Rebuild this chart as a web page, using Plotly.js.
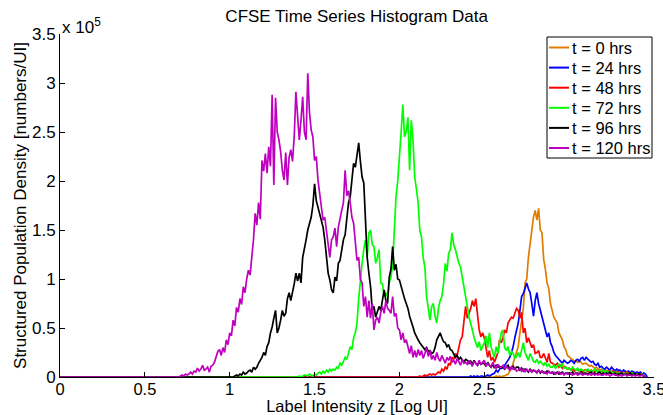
<!DOCTYPE html>
<html>
<head>
<meta charset="utf-8">
<script src="https://cdn.plot.ly/plotly-3.0.1.min.js"></script>
<style>html,body{margin:0;padding:0;background:#fff;}#chart{width:663px;height:415px;}</style>
</head>
<body>
<div id="chart"></div>
<script>
// Histogram bins: step in Log UI, first bin of each series' listed values
const binStep = 0.01;
const seriesNames = ["t = 0 hrs", "t = 24 hrs", "t = 48 hrs", "t = 72 hrs", "t = 96 hrs", "t = 120 hrs"];
const binStart = [2.55, 2.40, 2.10, 1.40, 1.02, 0.70];
const axisMin = 0;

// densities in units of 1e5 numbers/UI
const t0 = [
0.00,0.00,0.01,0.00,0.01,
0.00,0.01,0.01,0.02,0.03,0.06,0.08,0.14,0.20,0.27,
0.31,0.45,0.58,0.70,0.96,1.00,1.22,1.35,1.47,1.63,
1.70,1.60,1.72,1.50,1.47,1.20,1.10,0.96,0.90,0.75,
0.68,0.61,0.58,0.55,0.45,0.41,0.38,0.31,0.28,0.22,
0.20,0.19,0.18,0.16,0.17,0.15,0.16,0.15,0.13,0.14,
0.14,0.12,0.11,0.12,0.10,0.09,0.10,0.08,0.07,0.08,
0.07,0.06,0.07,0.06,0.05,0.06,0.06,0.05,0.06,0.05,
0.05,0.04,0.05,0.04,0.04,0.05,0.03,0.04,0.04,0.03,
0.03,0.04,0.03,0.02,0.01,0.00];

const t24 = [
0.00,0.00,0.01,0.00,0.01,0.00,0.01,0.00,0.01,0.01,
0.00,0.01,0.02,0.01,0.02,0.03,0.04,0.07,0.05,0.08,
0.10,0.09,0.12,0.14,0.17,0.20,0.25,0.31,0.40,0.48,
0.55,0.68,0.82,0.85,0.92,0.96,0.90,0.86,0.75,0.62,
0.78,0.86,0.75,0.68,0.60,0.55,0.45,0.41,0.45,0.35,
0.31,0.25,0.22,0.20,0.18,0.16,0.14,0.17,0.15,0.14,
0.15,0.17,0.16,0.14,0.17,0.18,0.16,0.19,0.20,0.17,
0.20,0.18,0.17,0.15,0.16,0.13,0.12,0.14,0.10,0.11,
0.09,0.08,0.10,0.08,0.07,0.10,0.08,0.06,0.08,0.07,
0.07,0.05,0.07,0.06,0.05,0.06,0.04,0.06,0.05,0.04,
0.05,0.04,0.05,0.03,0.04,0.03,0.00];

const t48 = [
0.00,0.00,0.01,0.00,0.01,0.02,0.01,0.02,0.03,0.02,
0.03,0.02,0.04,0.05,0.04,0.08,0.06,0.10,0.08,0.14,
0.12,0.20,0.18,0.24,0.22,0.30,0.38,0.41,0.55,0.72,
0.60,0.65,0.70,0.78,0.72,0.80,0.60,0.48,0.41,0.45,
0.40,0.30,0.20,0.27,0.17,0.20,0.15,0.20,0.25,0.38,
0.35,0.40,0.48,0.45,0.55,0.58,0.61,0.60,0.65,0.70,
0.68,0.60,0.66,0.45,0.50,0.35,0.40,0.35,0.30,0.33,
0.24,0.25,0.27,0.20,0.20,0.24,0.20,0.15,0.24,0.15,
0.14,0.13,0.12,0.14,0.10,0.12,0.09,0.11,0.10,0.08,
0.09,0.07,0.08,0.06,0.07,0.08,0.06,0.07,0.05,0.07,
0.07,0.06,0.05,0.07,0.06,0.05,0.07,0.06,0.05,0.06,
0.06,0.05,0.04,0.06,0.05,0.04,0.06,0.05,0.04,0.05,
0.04,0.05,0.03,0.04,0.05,0.04,0.03,0.04,0.03,0.03,
0.03,0.02,0.03,0.02,0.01,0.00];

const t72 = [
0.00,0.01,0.00,0.01,0.02,0.02,0.01,0.03,0.02,0.01,
0.03,0.02,0.04,0.05,0.03,0.06,0.04,0.07,0.05,0.08,
0.06,0.08,0.07,0.10,0.09,0.14,0.12,0.16,0.20,0.18,
0.24,0.31,0.28,0.40,0.45,0.55,0.80,1.00,1.16,1.30,
1.40,1.22,1.47,1.50,1.35,1.33,1.16,1.22,1.30,0.96,
0.95,0.82,0.86,0.82,0.96,1.02,1.15,1.50,1.84,2.00,
2.32,2.50,2.78,2.45,2.50,2.65,2.11,2.62,2.42,2.04,
1.92,1.78,1.50,1.43,1.22,1.12,0.82,0.70,0.58,0.72,
0.75,0.62,0.55,0.70,0.78,0.82,0.95,1.16,1.08,1.26,
1.30,1.47,1.35,1.30,1.22,1.16,1.12,1.02,0.92,0.86,
0.72,0.61,0.55,0.48,0.40,0.35,0.30,0.36,0.27,0.31,
0.35,0.42,0.30,0.45,0.31,0.25,0.20,0.31,0.24,0.35,
0.45,0.48,0.30,0.27,0.31,0.22,0.26,0.24,0.19,0.21,
0.25,0.20,0.28,0.35,0.25,0.20,0.17,0.24,0.20,0.16,
0.15,0.18,0.14,0.16,0.14,0.12,0.15,0.11,0.13,0.10,
0.10,0.12,0.09,0.11,0.13,0.10,0.14,0.09,0.10,0.08,
0.09,0.07,0.10,0.08,0.07,0.09,0.06,0.08,0.07,0.06,
0.07,0.08,0.06,0.07,0.05,0.08,0.06,0.07,0.05,0.06,
0.07,0.05,0.06,0.04,0.06,0.05,0.04,0.05,0.03,0.04,
0.04,0.03,0.04,0.03,0.04,0.02,0.03,0.04,0.03,0.02,
0.03,0.02,0.02,0.03,0.01,0.00];

const t96 = [
0.00,0.01,0.02,0.01,0.03,0.02,0.05,0.03,
0.04,0.06,0.07,0.05,0.10,0.08,0.10,0.14,0.17,0.20,
0.25,0.22,0.31,0.35,0.45,0.51,0.60,0.68,0.45,0.50,
0.58,0.68,0.62,0.65,0.80,0.86,0.78,0.86,0.95,1.06,
0.98,1.06,0.96,1.22,1.33,1.40,1.50,1.57,1.63,1.75,
1.97,1.80,1.73,1.67,1.60,1.53,1.40,1.22,1.06,0.99,
0.89,0.86,1.02,0.98,1.16,1.19,1.30,1.40,1.45,1.60,
1.78,1.84,1.98,2.18,2.14,2.27,2.39,2.20,2.04,1.98,
1.50,1.22,1.06,0.92,0.68,0.72,0.61,0.66,0.72,0.68,
0.80,0.89,0.78,0.75,1.02,1.10,1.33,1.09,1.15,1.00,
0.99,0.92,0.88,0.80,0.75,0.70,0.62,0.55,0.51,0.45,
0.41,0.38,0.35,0.33,0.31,0.28,0.30,0.26,0.27,0.24,
0.25,0.30,0.38,0.42,0.45,0.40,0.36,0.35,0.31,0.33,
0.28,0.27,0.24,0.20,0.22,0.18,0.20,0.17,0.15,0.18,
0.17,0.14,0.16,0.13,0.17,0.14,0.12,0.15,0.13,0.14,
0.14,0.11,0.15,0.12,0.10,0.13,0.09,0.12,0.10,0.11,
0.09,0.11,0.08,0.10,0.12,0.08,0.09,0.11,0.08,0.10,
0.10,0.07,0.09,0.06,0.08,0.07,0.05,0.08,0.06,0.07,
0.06,0.05,0.07,0.04,0.06,0.05,0.04,0.06,0.05,0.04,
0.05,0.03,0.04,0.05,0.03,0.04,0.05,0.03,0.04,0.04,
0.04,0.03,0.05,0.03,0.04,0.04,0.03,0.05,0.03,0.04,
0.04,0.03,0.04,0.05,0.03,0.04,0.03,0.04,0.05,0.03,
0.04,0.03,0.04,0.03,0.05,0.03,0.03,0.04,0.02,0.03,
0.03,0.04,0.02,0.03,0.03,0.02,0.04,0.02,0.03,0.03,
0.02,0.03,0.02,0.02,0.01,0.00];

const t120 = [
0.00,0.01,0.02,0.01,0.03,0.02,0.03,0.05,0.03,0.06,
0.05,0.09,0.06,0.08,0.12,0.07,0.08,0.10,0.05,0.11,
0.12,0.15,0.20,0.26,0.28,0.22,0.30,0.25,0.38,0.33,
0.45,0.42,0.58,0.52,0.71,0.66,0.80,0.74,0.92,0.86,
1.00,1.09,1.04,1.20,1.40,1.67,1.55,1.78,1.61,2.21,
2.10,2.28,2.08,2.35,2.15,2.88,1.96,2.85,2.50,2.42,
2.30,2.11,2.01,2.29,1.96,2.24,2.32,2.20,2.45,2.91,
2.60,2.42,2.62,2.86,2.50,2.42,3.10,2.70,2.52,2.45,
2.21,2.25,2.01,1.88,1.75,1.60,1.63,1.50,1.35,1.22,
1.40,1.43,1.52,1.33,1.53,1.60,1.70,1.78,2.11,1.85,
1.90,1.78,1.63,1.57,1.33,1.19,1.22,1.00,0.96,0.72,
0.82,0.61,0.78,0.60,0.75,0.48,0.58,0.61,0.55,0.66,
0.72,0.65,0.78,0.70,0.68,0.65,0.82,0.62,0.65,0.50,
0.48,0.38,0.45,0.35,0.38,0.30,0.24,0.32,0.20,0.27,
0.20,0.28,0.22,0.27,0.19,0.24,0.30,0.21,0.27,0.18,
0.22,0.17,0.25,0.19,0.16,0.22,0.18,0.14,0.20,0.17,
0.21,0.15,0.17,0.13,0.19,0.16,0.12,0.18,0.14,0.15,
0.13,0.17,0.14,0.11,0.16,0.14,0.12,0.17,0.13,0.15,
0.17,0.11,0.14,0.12,0.10,0.15,0.11,0.09,0.13,0.10,
0.10,0.12,0.08,0.11,0.09,0.07,0.11,0.08,0.09,0.06,
0.07,0.09,0.06,0.08,0.05,0.08,0.06,0.07,0.05,0.07,
0.06,0.04,0.07,0.05,0.06,0.04,0.05,0.03,0.06,0.04,
0.04,0.05,0.03,0.04,0.05,0.03,0.04,0.02,0.04,0.03,
0.03,0.04,0.02,0.03,0.04,0.02,0.03,0.04,0.02,0.03,
0.03,0.02,0.03,0.02,0.04,0.02,0.03,0.02,0.03,0.02,
0.02,0.03,0.02,0.03,0.01,0.02,0.03,0.02,0.02,0.01,
0.02,0.01,0.02,0.03,0.01,0.02,0.02,0.01,0.02,0.01,
0.02,0.01,0.01,0.02,0.01,0.00];

const seriesValues = [t0, t24, t48, t72, t96, t120];
const colors = ["rgb(222,125,0)", "rgb(0,0,255)", "rgb(255,0,0)", "rgb(0,255,0)", "rgb(0,0,0)", "rgb(191,0,191)"];
const xTicks = [0, 0.5, 1, 1.5, 2, 2.5, 3, 3.5];
const yTicks = [0, 0.5, 1, 1.5, 2, 2.5, 3, 3.5];

const FONT = "Liberation Sans, Arial, Helvetica, sans-serif";
const FS = 17;
const W = 663, H = 415, ML = 60, MR = 9, MT = 34, MB = 38;
const px2x = p => (p - ML) / (W - ML - MR);
const px2y = p => (H - MB - p) / (H - MT - MB);

const traces = [];
for (let i = 0; i < seriesValues.length; i++) {
  traces.push({
    type: "scatter", mode: "lines",
    x: [axisMin, binStart[i]], y: [0, 0],
    line: {color: colors[i], width: 1.7},
    showlegend: false, hoverinfo: "skip"
  });
  traces.push({
    type: "scatter", mode: "lines",
    x0: binStart[i], dx: binStep, y: seriesValues[i],
    name: seriesNames[i],
    line: {color: colors[i], width: 1.7},
    showlegend: false
  });
}

// custom MATLAB-style legend box
const LEG = {left: 547, right: 652, top: 37, bottom: 158, row0: 47.5, rowGap: 20.1, lineL: 549, lineR: 569, textL: 570};
const shapes = [{type: "rect", xref: "paper", yref: "paper",
  x0: px2x(LEG.left), x1: px2x(LEG.right), y0: px2y(LEG.bottom), y1: px2y(LEG.top),
  line: {color: "#000", width: 1}, fillcolor: "#fff", layer: "above"}];
const annotations = [
  {xref: "paper", yref: "paper", x: 0, y: 1, xanchor: "left", yanchor: "bottom",
   text: "x 10<sup>5</sup>", showarrow: false, font: {family: FONT, size: FS}, yshift: -5}
];
seriesNames.forEach((n, i) => {
  const py = LEG.row0 + i * LEG.rowGap;
  shapes.push({type: "line", xref: "paper", yref: "paper",
    x0: px2x(LEG.lineL), x1: px2x(LEG.lineR), y0: px2y(py), y1: px2y(py),
    line: {color: colors[i], width: 2}, layer: "above"});
  annotations.push({xref: "paper", yref: "paper", x: px2x(LEG.textL), y: px2y(py),
    xanchor: "left", yanchor: "middle", text: n, showarrow: false,
    font: {family: FONT, size: 16.5, color: "#000"}});
});

const layout = {
  width: W, height: H,
  margin: {l: ML, r: MR, t: MT, b: MB},
  paper_bgcolor: "#fff", plot_bgcolor: "#fff",
  font: {family: FONT, size: FS, color: "#000"},
  title: {text: "CFSE Time Series Histogram Data", font: {family: FONT, size: FS, color: "#000"},
          x: 0.538, xanchor: "center", y: 0.962, yref: "container", yanchor: "middle"},
  xaxis: {
    range: [0, 3.5], tickvals: xTicks, ticks: "inside", ticklen: 5, tickcolor: "#000",
    showline: true, linecolor: "#000", linewidth: 1, mirror: false, ticklabeloverflow: "allow",
    ticklabelstandoff: -3,
    showgrid: false, zeroline: false, tickfont: {family: FONT, size: 16.5},
    title: {text: "Label Intensity z [Log UI]", font: {family: FONT, size: 16.5}, standoff: 2},
    automargin: false
  },
  yaxis: {
    range: [0, 3.5], tickvals: yTicks, ticks: "inside", ticklen: 5, tickcolor: "#000",
    showline: true, linecolor: "#000", linewidth: 1, mirror: false,
    showgrid: false, zeroline: false, tickfont: {family: FONT, size: FS},
    title: {text: "Structured Population Density [numbers/UI]", font: {family: FONT, size: FS}, standoff: 1},
    automargin: false
  },
  shapes: shapes,
  annotations: annotations
};

Plotly.newPlot("chart", traces, layout, {displayModeBar: false, staticPlot: true});
</script>
</body>
</html>
